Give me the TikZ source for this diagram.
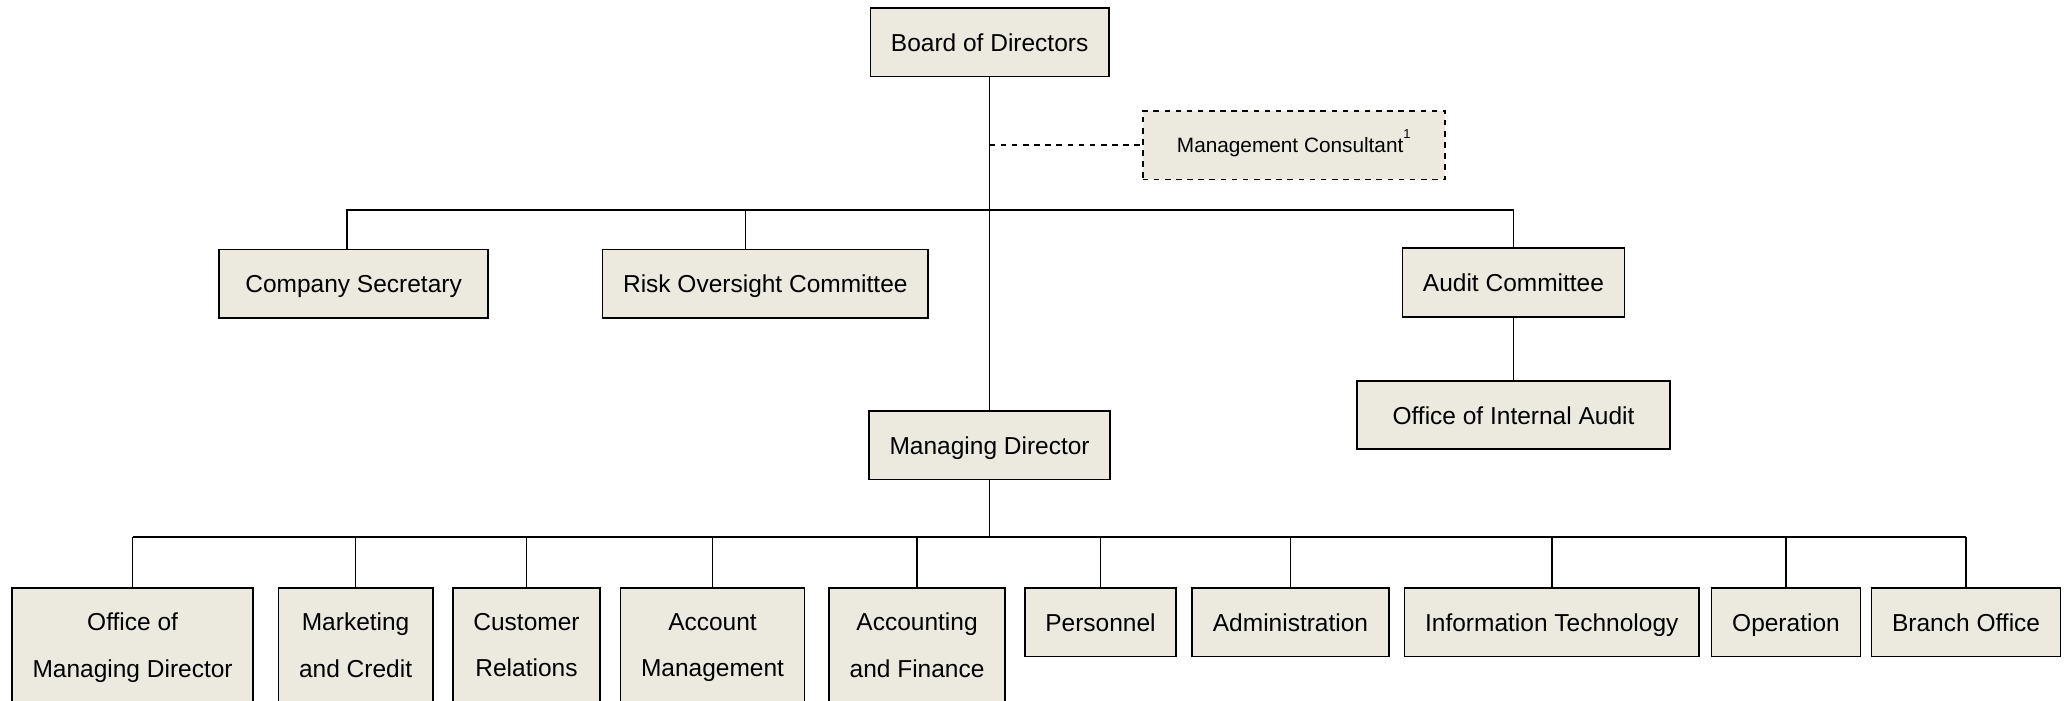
\documentclass[tikz,border=0pt]{standalone}
\usepackage{fontspec}
\setmainfont{Liberation Sans}
\definecolor{boxfill}{RGB}{236,233,222}

\begin{document}
\begin{tikzpicture}[x=0.025cm, y=-0.025cm, line width=0.8pt,
    unit/.style={draw, line width=0.9pt, fill=boxfill, inner xsep=0.39cm,
      minimum height=1.3cm, font=\fontsize{13.2pt}{25pt}\selectfont,
      execute at begin node=\strut, execute at end node=\strut},
    dept/.style={unit, anchor=north, align=center},
    dept2/.style={dept, minimum height=2.425cm}]
  \useasboundingbox (0,0) rectangle (1568,530.5);

  % board level
  \node[unit] (board) at (750,32) {Board of Directors};
  \node[unit, dashed, minimum width=5.725cm, font=\fontsize{11.2pt}{16pt}\selectfont] (consult) at (980.5,110)
    {Management Consultant\raisebox{1.3ex}{\fontsize{7pt}{7pt}\selectfont 1}};
  \node[unit, minimum width=5.1cm] (secretary) at (268,215) {Company Secretary};
  \node[unit] (risk) at (580,215) {Risk Oversight Committee};
  \node[unit] (audit) at (1147,214) {Audit Committee};
  \node[unit, minimum width=5.925cm] (internal) at (1147,314.5) {Office of Internal Audit};
  \node[unit] (md) at (750,337.5) {Managing Director};

  \coordinate (upbus) at (750,159);
  \coordinate (lowbus) at (750,407);

  % departments
  \node[dept2] (omd) at (100.5,445) {Office of\\Managing Director};
  \node[dept2] (mkt) at (269.5,445) {Marketing\\and Credit};
  \node[dept2] (cust) at (399,445) {Customer\\Relations};
  \node[dept2] (acct) at (540,445) {Account\\Management};
  \node[dept2] (fin) at (695,445) {Accounting\\and Finance};
  \node[dept] (pers) at (834,445) {Personnel};
  \node[dept] (admin) at (978,445) {Administration};
  \node[dept] (it) at (1176,445) {Information Technology};
  \node[dept] (oper) at (1353.5,445) {Operation};
  \node[dept] (branch) at (1490,445) {Branch Office};

  % connectors
  \draw (board.south) -- (md.north);
  \draw[dashed] (board.south |- consult.west) -- (consult.west);
  \draw ([xshift=-0.125cm]secretary.north) -- ([xshift=-0.125cm]secretary.north |- upbus)
    -- (audit.north |- upbus) -- (audit.north);
  \draw ([xshift=-0.375cm]risk.north) -- ([xshift=-0.375cm]risk.north |- upbus);
  \draw (audit.south) -- (internal.north);
  \draw (md.south) -- (lowbus);
  \draw (omd.north |- lowbus) -- (branch.north |- lowbus);
  \foreach \d in {omd,mkt,cust,acct,fin,pers,admin,it,oper,branch}
    \draw (\d.north) -- (\d.north |- lowbus);
\end{tikzpicture}
\end{document}
